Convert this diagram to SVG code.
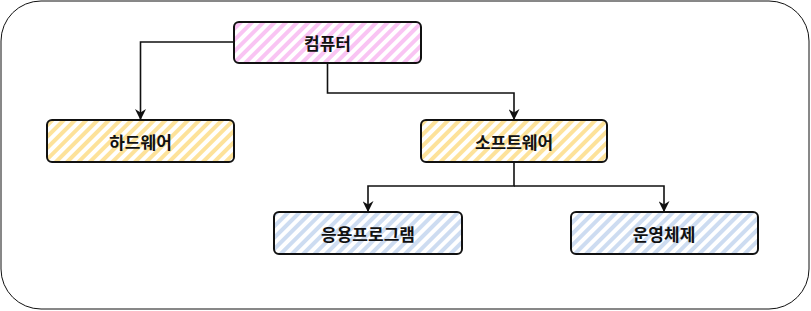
<svg xmlns="http://www.w3.org/2000/svg" width="811" height="311" viewBox="0 0 811 311">
<style>
.box{stroke:#111;stroke-width:2;}
.lbl{font-family:"Noto Sans CJK KR","Noto Sans",sans-serif;font-size:17px;font-weight:bold;fill:#111;text-anchor:middle;dominant-baseline:central;}
.edge{fill:none;stroke:#111;stroke-width:1.6;}
</style>
<defs>
<pattern id="hp" width="8" height="8" patternUnits="userSpaceOnUse" patternTransform="rotate(45)">
<rect width="8" height="8" fill="#fff"/><rect width="4" height="8" fill="#f9c4f3"/>
</pattern>
<pattern id="hy" width="8" height="8" patternUnits="userSpaceOnUse" patternTransform="rotate(45)">
<rect width="8" height="8" fill="#fff"/><rect width="4" height="8" fill="#fde29a"/>
</pattern>
<pattern id="hb" width="8" height="8" patternUnits="userSpaceOnUse" patternTransform="rotate(45)">
<rect width="8" height="8" fill="#fff"/><rect width="4" height="8" fill="#cddcf1"/>
</pattern>
<marker id="arr" viewBox="0 0 10 10" refX="9" refY="5" markerWidth="11" markerHeight="11" markerUnits="userSpaceOnUse" orient="auto">
<path d="M0,0 L10,5 L0,10 L3,5 Z" fill="#111"/>
</marker>
</defs>
<rect x="1" y="1" width="808" height="308" rx="40" fill="#fff" stroke="#111" stroke-width="1"/>
<g id="connectors">
<path class="edge" d="M234,42 H140.5 V119" marker-end="url(#arr)"/>
<path class="edge" d="M327.5,63 V93 H514 V119" marker-end="url(#arr)"/>
<path class="edge" d="M514,162 V186 H368 V211" marker-end="url(#arr)"/>
<path class="edge" d="M514,186 H664 V211" marker-end="url(#arr)"/>
</g>
<g id="n-computer">
<rect class="box" x="234" y="22" width="187" height="41" rx="5" fill="url(#hp)"/>
<text class="lbl" x="327.5" y="42.5">컴퓨터</text>
</g>
<g id="n-hardware">
<rect class="box" x="47" y="120" width="187" height="42" rx="5" fill="url(#hy)"/>
<text class="lbl" x="140.5" y="141">하드웨어</text>
</g>
<g id="n-software">
<rect class="box" x="421" y="120" width="186" height="42" rx="5" fill="url(#hy)"/>
<text class="lbl" x="514" y="141">소프트웨어</text>
</g>
<g id="n-app">
<rect class="box" x="274" y="212" width="188" height="42" rx="5" fill="url(#hb)"/>
<text class="lbl" x="368" y="233">응용프로그램</text>
</g>
<g id="n-os">
<rect class="box" x="571" y="212" width="187" height="42" rx="5" fill="url(#hb)"/>
<text class="lbl" x="664" y="233">운영체제</text>
</g>
</svg>
